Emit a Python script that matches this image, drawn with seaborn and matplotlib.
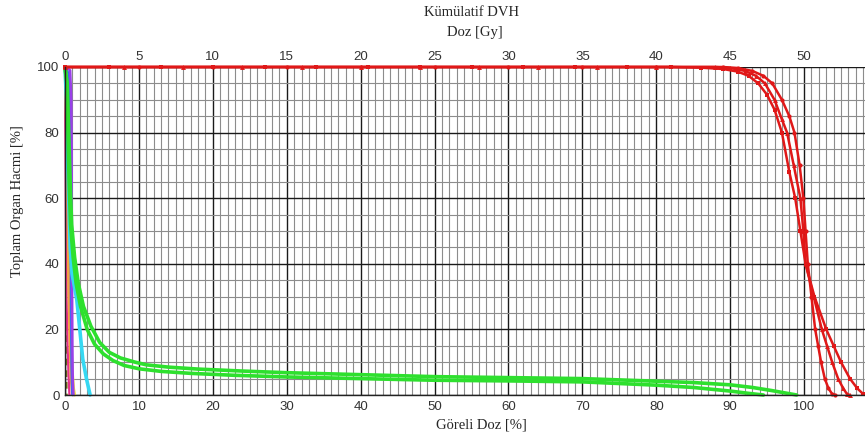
import numpy as np
import pandas as pd
import matplotlib
matplotlib.use("Agg")
import matplotlib.pyplot as plt
import seaborn as sns
from matplotlib.ticker import MultipleLocator

# Relative dose [%] and cumulative volume [%] for each structure
ptv_a_doz = [0, 6, 13, 20, 27, 34, 41, 48, 55, 62, 69, 76, 82, 86, 89, 91, 92.5, 93.8,
             95, 96, 97, 98, 98.8, 99.5, 100.2, 101.4, 103, 104, 105, 106.2, 107.2, 108, 108.5]
ptv_a_hacim = [100, 100, 100, 100, 100, 100, 100, 100, 100, 100, 100, 100, 100, 99.8, 99.4,
               98.6, 97.3, 95, 91.5, 87, 80, 68, 60, 50, 40, 30, 20, 15, 10, 5, 2, 0.3, 0]

ptv_b_doz = [0, 8, 16, 24, 32, 40, 48, 56, 64, 72, 80, 88, 90, 92, 93.5, 94.7, 96, 97,
             97.7, 98.6, 99.5, 99.9, 100.2, 101.3, 102.4, 103.1, 103.8, 104.6, 105.3, 105.8, 106.2]
ptv_b_hacim = [100, 100, 100, 100, 100, 100, 100, 100, 100, 100, 100, 100, 99.7, 98.8, 97.3,
               95, 90, 84, 80, 70, 60, 50, 40, 30, 20, 15, 10, 5, 2, 0.3, 0]

ptv_c_doz = [0, 10, 20, 30, 40, 50, 60, 70, 80, 89, 91, 93, 94.5, 95.7, 97, 98, 98.7, 99.4,
             99.9, 100.2, 100.5, 101, 101.5, 101.9, 102.3, 102.8, 103.3, 103.8, 104.2]
ptv_c_hacim = [100, 100, 100, 100, 100, 100, 100, 100, 100, 100, 99.7, 98.8, 97.3, 95, 90,
               85, 80, 70, 60, 50, 40, 30, 20, 15, 10, 5, 2, 0.3, 0]

yesil1_doz = [0, 0.3, 0.5, 0.7, 0.9, 1.3, 1.8, 2.5, 3.5, 4.7, 6, 7.5, 9.5, 11, 14, 18, 24,
              30, 40, 50, 60, 70, 80, 85, 90, 93, 95.5, 97.5, 99]
yesil1_hacim = [100, 95, 80, 65, 52, 42, 34, 27, 21, 16, 13, 11.3, 10, 9.2, 8.5, 7.9, 7.3,
                6.8, 6.2, 5.6, 5.3, 5.0, 4.2, 3.8, 3.1, 2.3, 1.4, 0.6, 0]

yesil2_doz = [0, 0.25, 0.4, 0.55, 0.75, 1.1, 1.5, 2.1, 3, 4, 5.2, 6.5, 8, 10, 13, 17, 23,
              30, 40, 50, 60, 70, 80, 85, 90, 92.5, 94.5]
yesil2_hacim = [100, 95, 80, 65, 52, 42, 34, 27, 20, 15.5, 12.5, 10.5, 9, 8, 7.2, 6.6, 6.0,
                5.5, 5.0, 4.5, 4.3, 4.0, 3.0, 2.3, 1.2, 0.5, 0]

camgobegi_doz = [0, 0.2, 0.35, 0.5, 0.7, 0.95, 1.6, 2.0, 2.4, 2.9, 3.4]
camgobegi_hacim = [100, 90, 72, 60, 45, 37, 29, 20, 11, 5, 0]

sari_doz = [0, 0.15, 0.2, 0.3, 0.4, 0.55, 0.75, 0.95, 1.15, 1.3]
sari_hacim = [100, 95, 80, 60, 45, 30, 18, 8, 2, 0]

mor_doz = [0, 0.7, 0.85, 0.9, 0.92, 0.95, 1.0, 1.05, 1.15]
mor_hacim = [100, 99, 90, 75, 55, 35, 15, 5, 0]

mavi_doz = [0, 0.5, 0.7, 0.75, 0.78, 0.82, 0.88, 0.95, 1.0]
mavi_hacim = [100, 98, 85, 65, 45, 25, 10, 3, 0]

turuncu_doz = [0, 0.3, 0.45, 0.6, 0.8, 1.0]
turuncu_hacim = [100, 70, 40, 20, 5, 0]

pembe_doz = [0, 0.1, 0.2, 0.35, 0.5, 0.6]
pembe_hacim = [100, 60, 30, 15, 5, 0]

zeytin_doz = [0, 0.1, 0.15, 0.2, 0.25]
zeytin_hacim = [100, 90, 50, 10, 0]

x_ticks = list(range(0, 101, 10))
gy_ticks = list(range(0, 51, 5))
y_ticks = list(range(0, 101, 20))

sns.set_style("white")
plt.rcParams["font.family"] = ["Liberation Serif", "DejaVu Serif"]

fig = plt.figure(figsize=(8.65, 4.36), dpi=100)
ax = fig.add_axes([65 / 865, 41 / 436, 813 / 865, 328 / 436])

# grid: fine lines every 1 % dose / 5 % volume, heavy lines every 10 % / 20 %
ax.xaxis.set_major_locator(MultipleLocator(10))
ax.xaxis.set_minor_locator(MultipleLocator(1))
ax.yaxis.set_major_locator(MultipleLocator(20))
ax.yaxis.set_minor_locator(MultipleLocator(5))
ax.grid(which="minor", color="#8c8c8c", linewidth=0.8)
ax.grid(which="major", color="#1a1a1a", linewidth=1.0)
ax.set_axisbelow(True)


def ciz(doz, hacim, renk, lw, **kw):
    df = pd.DataFrame({"doz": doz, "hacim": hacim})
    sns.lineplot(data=df, x="doz", y="hacim", sort=False, estimator=None, ax=ax,
                 color=renk, linewidth=lw, clip_on=False, **kw)


ciz(zeytin_doz, zeytin_hacim, "#6b6b10", 1.2, linestyle=(0, (4, 3)))
ciz(sari_doz, sari_hacim, "#f2e63a", 2.2)
ciz(pembe_doz, pembe_hacim, "#e8308a", 1.6)
ciz(turuncu_doz, turuncu_hacim, "#f5a040", 1.8)
ciz(mavi_doz, mavi_hacim, "#3f6af0", 1.8)
ciz(mor_doz, mor_hacim, "#9a40e8", 1.8)
ciz(camgobegi_doz, camgobegi_hacim, "#36d8f2", 2.6)
ciz(yesil2_doz, yesil2_hacim, "#2ee02e", 2.6)
ciz(yesil1_doz, yesil1_hacim, "#2ee02e", 2.6)
ciz(ptv_a_doz, ptv_a_hacim, "#e01818", 1.8, marker="s", markersize=3, markeredgewidth=0)
ciz(ptv_b_doz, ptv_b_hacim, "#e01818", 1.8, marker="^", markersize=3.5, markeredgewidth=0)
ciz(ptv_c_doz, ptv_c_hacim, "#e01818", 1.8, marker="o", markersize=3, markeredgewidth=0)

ax.set_xlim(0, 110)
ax.set_ylim(0, 100)
ax.set_xticks(x_ticks)
ax.set_yticks(y_ticks)
ax.tick_params(which="both", length=0, labelsize=9.5, pad=4, labelcolor="#333333")
for lab in ax.get_xticklabels() + ax.get_yticklabels():
    lab.set_family(["Liberation Sans", "DejaVu Sans"])

for side in ("top", "right"):
    ax.spines[side].set_visible(False)
for side in ("left", "bottom"):
    ax.spines[side].set_color("#222222")
    ax.spines[side].set_linewidth(1.0)

# absolute dose axis: 50 Gy prescription = 100 %
sec = ax.secondary_xaxis("top", functions=(lambda p: p / 2.0, lambda g: g * 2.0))
sec.set_xticks(gy_ticks)
sec.tick_params(length=0, labelsize=9.5, pad=3, labelcolor="#333333")
for lab in sec.get_xticklabels():
    lab.set_family(["Liberation Sans", "DejaVu Sans"])
sec.spines["top"].set_visible(False)
sec.set_xlabel("Doz [Gy]", fontsize=10.5)
sec.xaxis.set_label_coords(0.504, 1.104, transform=ax.transAxes)
sec.xaxis.label.set_va("center")

ax.set_title("Kümülatif DVH", fontsize=10.5, y=1.165, va="center", x=0.5, pad=0)
ax.set_xlabel("Göreli Doz [%]", fontsize=10.5)
ax.xaxis.set_label_coords(0.512, -0.092)
ax.xaxis.label.set_va("center")
ax.set_ylabel("Toplam Organ Hacmi [%]", fontsize=10.5)
ax.yaxis.set_label_coords(-0.058, 0.59)
ax.yaxis.label.set_va("center")

fig.savefig("out.png", dpi=100)
